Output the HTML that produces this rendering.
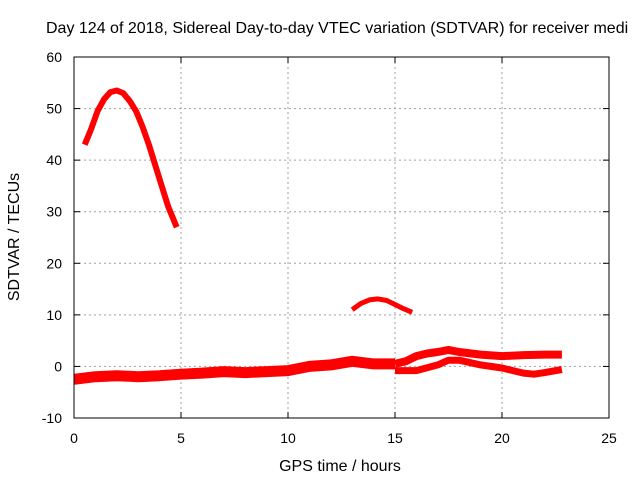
<!DOCTYPE html>
<html><head><meta charset="utf-8"><style>
body{margin:0;background:#fff;}
svg text{font-family:"Liberation Sans",sans-serif;font-size:14px;fill:#000;}
svg text.big{font-size:16px;}
</style></head><body>
<svg id="chart" width="640" height="480" xmlns="http://www.w3.org/2000/svg">
<text class="big" x="46" y="33">Day 124 of 2018, Sidereal Day-to-day VTEC variation (SDTVAR) for receiver medi</text>
<text class="big" x="340" y="471" text-anchor="middle">GPS time / hours</text>
<text class="big" transform="translate(19,237) rotate(-90)" text-anchor="middle">SDTVAR / TECUs</text>
<g id="grid"></g><g id="marks"></g>
<rect x="74" y="57" width="535" height="361" fill="none" stroke="#000" stroke-width="1"/>
</svg>
<script>
const xTicks=[0,5,10,15,20,25];
const yTicks=[-10,0,10,20,30,40,50,60];
const arcX=[0.5,0.8,1.1,1.4,1.7,2,2.3,2.6,2.9,3.2,3.5,3.8,4.1,4.4,4.8];
const arcY=[43,46,49.5,51.8,53.2,53.5,53,51.5,49.5,46.5,43,39,35,31,27];
const humpX=[13,13.4,13.8,14.2,14.6,15,15.4,15.8];
const humpY=[11,12.2,12.9,13.1,12.8,12,11.2,10.5];
const bandX=[0,1,2,3,4,5,6,7,8,9,10,11,12,13,14,15];
const bandY=[-2.5,-2,-1.8,-2,-1.8,-1.5,-1.3,-1,-1.2,-1,-0.8,0,0.3,1,0.5,0.5];
const upX=[15,15.5,16,16.5,17,17.5,18,19,20,21,22,22.8];
const upY=[0.5,1,2,2.5,2.8,3.2,2.8,2.3,2,2.2,2.3,2.3];
const loX=[15,16,17,17.5,18,19,20,21,21.5,22,22.8];
const loY=[-0.8,-0.8,0.3,1.2,1.2,0.3,-0.3,-1.3,-1.5,-1.2,-0.6];
const X0=74,X1=609,Y0=418,Y1=57;
const sx=v=>X0+(v-0)/25*(X1-X0);
const sy=v=>Y0-(v+10)/70*(Y0-Y1);
const NS="http://www.w3.org/2000/svg";
const grid=document.getElementById('grid'),marks=document.getElementById('marks'),svg=document.getElementById('chart');
function mk(t,a,p){const e=document.createElementNS(NS,t);for(const k in a)e.setAttribute(k,a[k]);p.appendChild(e);return e;}
xTicks.forEach(v=>{const x=sx(v);
 if(v>0&&v<25){const g=mk('line',{x1:x,x2:x,y1:Y1,y2:Y0,stroke:'#a0a0a0','stroke-dasharray':'2,3'},grid);
 
 }
 const t=mk('text',{x:x,y:443,'text-anchor':'middle'},svg);t.textContent=v;
 
 
 mk('line',{x1:x,x2:x,y1:Y0,y2:Y0-6,stroke:'#000'},grid);mk('line',{x1:x,x2:x,y1:Y1,y2:Y1+6,stroke:'#000'},grid);});
yTicks.forEach(v=>{const y=sy(v);
 if(v>-10&&v<60){const g=mk('line',{x1:X0,x2:X1,y1:y,y2:y,stroke:'#a0a0a0','stroke-dasharray':'2,3'},grid);
 
 }
 const t=mk('text',{x:62,y:y+5,'text-anchor':'end'},svg);t.textContent=v;
 
 
 mk('line',{x1:X0,x2:X0+6,y1:y,y2:y,stroke:'#000'},grid);mk('line',{x1:X1,x2:X1-6,y1:y,y2:y,stroke:'#000'},grid);});
function series(xs,ys,w,name){
 const d=xs.map((x,i)=>(i?'L':'M')+sx(x).toFixed(1)+','+sy(ys[i]).toFixed(1)).join(' ');
 const p=mk('path',{d:d,fill:'none',stroke:'#ff0000','stroke-width':w,'stroke-linejoin':'round','stroke-linecap':'butt'},marks);
 
 
}
series(arcX,arcY,6,'series-arc');
series(humpX,humpY,5,'series-hump');
series(bandX,bandY,11,'series-band');
series(upX,upY,8,'series-upper-strand');
series(loX,loY,7,'series-lower-strand');
</script>
</body></html>
